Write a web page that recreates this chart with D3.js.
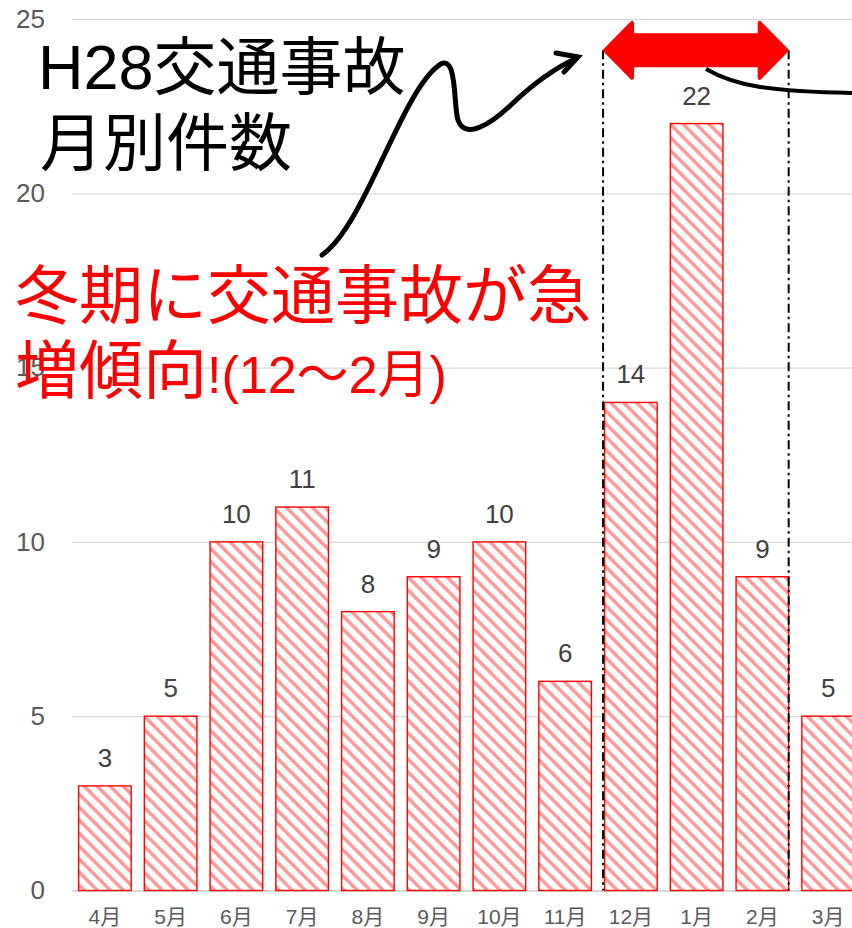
<!DOCTYPE html>
<html lang="ja">
<head>
<meta charset="UTF-8">
<title>H28交通事故 月別件数</title>
<script src="https://d3js.org/d3.v7.min.js"></script>
<style>
    html, body { margin: 0; padding: 0; background: #fff; }
    svg { display: block; }
    text { font-family: "Liberation Sans", Arial, "Noto Sans CJK JP", sans-serif; }
</style>
</head>
<body>
<svg width="852" height="928"></svg>
<script>
    // データ
    const months = ["4月", "5月", "6月", "7月", "8月", "9月", "10月", "11月", "12月", "1月", "2月", "3月"];
    const counts = [3, 5, 10, 11, 8, 9, 10, 6, 14, 22, 9, 5];
    const yTicks = [0, 5, 10, 15, 20, 25];
    const titleLines = ["H28交通事故", "月別件数"];
    const noteLine1 = "冬期に交通事故が急";
    const noteLine2 = ["増傾向", "!(12～2月)"];
    const winter = ["12月", "2月"];

    const width = 852, height = 928;
    const svg = d3.select("svg");

    const x = d3.scaleBand()
        .domain(months)
        .range([72, 861])
        .paddingInner(0.2)
        .paddingOuter(0.1);
    const y = d3.scaleLinear().domain([0, 25]).range([890.5, 19]);

    // 斜線パターン
    const defs = svg.append("defs");
    const pat = defs.append("pattern")
        .attr("id", "hatch")
        .attr("patternUnits", "userSpaceOnUse")
        .attr("width", 13).attr("height", 13);
    pat.append("rect").attr("width", 13).attr("height", 13).attr("fill", "#fff");
    pat.append("path")
        .attr("d", "M-4,-4 L17,17 M-4,9 L4,17 M9,-4 L17,4")
        .attr("stroke", "#ff9a9a")
        .attr("stroke-width", 3.4);

    // 目盛線と縦軸
    const yAxis = svg.append("g")
        .attr("transform", "translate(72,0)")
        .call(d3.axisLeft(y).tickValues(yTicks).tickSize(-(width - 72)).tickPadding(27));
    yAxis.select(".domain").remove();
    yAxis.selectAll(".tick line")
        .attr("stroke", "#d9d9d9")
        .attr("stroke-width", d => d === 0 ? 2 : 1.3);
    yAxis.selectAll(".tick text")
        .attr("fill", "#595959")
        .style("font-size", "26px");

    // 横軸ラベル
    const xAxis = svg.append("g")
        .attr("transform", `translate(0,${y(0)})`)
        .call(d3.axisBottom(x).tickSize(0));
    xAxis.select(".domain").remove();
    xAxis.selectAll(".tick text")
        .attr("y", 33).attr("dy", null)
        .attr("fill", "#595959")
        .style("font-size", "21px");

    // 棒
    const data = months.map((m, i) => ({ month: m, value: counts[i] }));
    svg.append("g").selectAll("rect")
        .data(data)
        .enter().append("rect")
        .attr("x", d => x(d.month))
        .attr("y", d => y(d.value))
        .attr("width", x.bandwidth())
        .attr("height", d => y(0) - y(d.value))
        .attr("fill", "url(#hatch)")
        .attr("stroke", "#ff0000")
        .attr("stroke-width", 1.4);

    svg.append("g").selectAll("text")
        .data(data)
        .enter().append("text")
        .attr("x", d => x(d.month) + x.bandwidth() / 2)
        .attr("y", d => y(d.value) - 19)
        .attr("text-anchor", "middle")
        .attr("fill", "#404040")
        .style("font-size", "26px")
        .text(d => d.value);

    // 冬期の範囲（一点鎖線）
    const xl = x(winter[0]) - 1.5;
    const xr = x(winter[1]) + x.bandwidth();
    const yTop = y(24.1);
    svg.append("g").selectAll("line")
        .data([xl, xr])
        .enter().append("line")
        .attr("x1", d => d).attr("x2", d => d)
        .attr("y1", yTop).attr("y2", y(0))
        .attr("stroke", "#000")
        .attr("stroke-width", 2)
        .attr("stroke-dasharray", "9,4,2.5,4");

    // 両矢印
    const bh = 15, hh = 27.5, hl = 29;
    const arrowPts = [
        [xl + 2, yTop], [xl + hl, yTop - hh], [xl + hl, yTop - bh],
        [xr - hl, yTop - bh], [xr - hl, yTop - hh], [xr - 2, yTop],
        [xr - hl, yTop + hh], [xr - hl, yTop + bh], [xl + hl, yTop + bh],
        [xl + hl, yTop + hh]
    ];
    svg.append("path")
        .attr("d", d3.line()(arrowPts) + "Z")
        .attr("fill", "#ff0000")
        .attr("stroke", "#ff0000")
        .attr("stroke-width", 4)
        .attr("stroke-linejoin", "round");

    // 注記テキスト（赤）
    const note = svg.append("text")
        .attr("fill", "#ff0000")
        .style("font-size", "64px");
    note.append("tspan").attr("x", 15).attr("y", 318).text(noteLine1);
    note.append("tspan").attr("x", 15).attr("y", 393).text(noteLine2[0]);
    note.append("tspan").style("font-size", "52px").text(noteLine2[1]);

    // タイトル
    svg.append("g").selectAll("text")
        .data(titleLines)
        .enter().append("text")
        .attr("x", (d, i) => i === 0 ? 38 : 40)
        .attr("y", (d, i) => 89 + i * 76)
        .attr("fill", "#000")
        .style("font-size", "63px")
        .text(d => d);

    // 黒い曲線矢印
    svg.append("path")
        .attr("d", "M322,255 C365,225 400,95 438,66 C458,50 453,105 458,120 C465,140 490,125 512,104 C535,82 555,68 577,58")
        .attr("fill", "none")
        .attr("stroke", "#000")
        .attr("stroke-width", 5)
        .attr("stroke-linecap", "round");
    svg.append("path")
        .attr("d", "M556,53 L578,57 L564,72")
        .attr("fill", "none")
        .attr("stroke", "#000")
        .attr("stroke-width", 5)
        .attr("stroke-linecap", "round")
        .attr("stroke-linejoin", "miter");

    svg.append("path")
        .attr("d", "M706,69 C735,86 770,92 860,93")
        .attr("fill", "none")
        .attr("stroke", "#000")
        .attr("stroke-width", 4);
</script>
</body>
</html>
